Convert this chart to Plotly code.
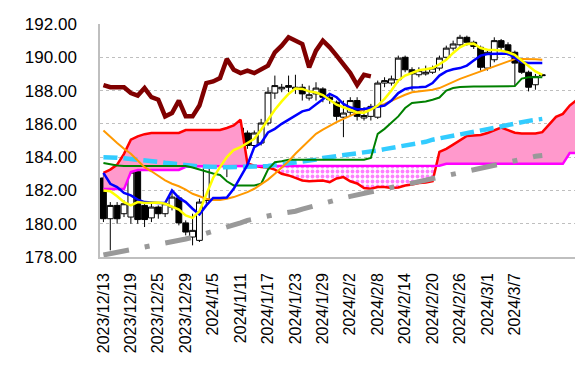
import plotly.graph_objects as go

# ---------------- data ----------------
tick_labels = ["2023/12/13", "2023/12/19", "2023/12/25", "2023/12/29", "2024/1/5",
               "2024/1/11", "2024/1/17", "2024/1/23", "2024/1/29", "2024/2/2",
               "2024/2/8", "2024/2/14", "2024/2/20", "2024/2/26", "2024/3/1", "2024/3/7"]

open_ = [182.75, 180.3, 181.1, 180.6, 180.4, 183.15, 181.1, 180.35, 181.0, 180.6,
         181.0, 181.55, 180.05, 179.2, 179.0, 181.4, 183.75, 184.0, 183.95, 183.4,
         185.75, 185.45, 184.7, 184.85, 186.05, 187.85, 188.1, 188.3, 188.1, 188.2,
         187.55, 187.8, 188.1, 187.6, 187.3, 186.4, 186.7, 187.4, 186.35, 186.45,
         186.4, 188.45, 188.45, 188.65, 190.0, 189.25, 188.95, 189.0, 189.1, 189.35,
         190.0, 190.55, 190.75, 191.2, 190.9, 190.6, 189.35, 189.85, 191.0, 190.75,
         190.3, 189.7, 189.1, 188.35, 188.95]
high = [183.0, 181.3, 181.3, 181.4, 184.25, 183.3, 181.3, 181.2, 181.1, 181.3,
        182.0, 181.7, 180.2, 180.6, 181.5, 184.3, 184.3, 184.1, 184.1, 185.9,
        185.9, 185.6, 185.6, 186.3, 188.2, 188.9, 188.4, 188.9, 188.95, 188.4,
        188.3, 188.5, 188.2, 187.8, 187.4, 187.4, 187.6, 187.6, 187.0, 187.2,
        188.6, 188.8, 188.9, 190.1, 190.1, 189.4, 189.4, 189.5, 189.5, 190.1,
        190.7, 191.0, 191.35, 191.3, 191.0, 190.7, 190.4, 191.2, 191.1, 190.9,
        190.4, 189.8, 189.2, 189.0, 189.0]
low = [180.1, 178.4, 180.0, 180.4, 180.0, 180.0, 179.8, 180.1, 180.3, 180.4,
       180.8, 179.9, 179.3, 178.7, 178.9, 181.2, 183.5, 183.6, 182.8, 183.3,
       185.1, 184.5, 184.5, 184.7, 185.9, 187.5, 187.9, 187.9, 187.8, 187.4,
       187.4, 187.4, 187.3, 187.2, 186.2, 185.2, 186.5, 186.2, 186.2, 186.2,
       186.3, 188.2, 188.3, 188.5, 189.1, 188.0, 188.8, 188.9, 189.0, 189.2,
       189.9, 190.4, 190.6, 190.7, 190.5, 189.2, 189.2, 189.7, 190.4, 190.1,
       188.3, 189.0, 187.95, 188.05, 188.85]
close = [180.3, 181.1, 180.3, 181.2, 183.1, 180.25, 180.25, 181.0, 180.6, 181.2,
         181.6, 180.05, 179.5, 179.6, 181.3, 183.95, 184.0, 183.8, 183.65, 185.75,
         185.3, 184.7, 185.45, 186.05, 187.9, 188.3, 188.2, 188.2, 188.2, 187.8,
         187.75, 188.15, 187.6, 187.45, 186.45, 186.65, 187.4, 186.45, 186.5, 187.05,
         188.45, 188.6, 188.7, 189.95, 189.25, 189.0, 189.2, 189.1, 189.35, 189.95,
         190.55, 190.8, 191.2, 190.9, 190.65, 189.4, 190.3, 191.0, 190.6, 190.2,
         189.65, 189.1, 188.2, 188.85, 188.9]

yellow_line = [182.0, 181.95, 181.65, 181.3, 181.1, 181.3, 181.25, 181.27, 181.28, 181.2,
               181.0, 180.85, 180.5, 180.35, 180.75, 181.75, 182.75, 183.4, 184.0, 184.43,
               184.6, 184.85, 185.1, 185.65, 186.25, 186.85, 187.35, 187.8, 188.12, 188.1,
               187.95, 187.88, 187.73, 187.45, 187.15, 187.0, 186.85, 186.68, 186.67, 186.85,
               187.1, 187.5, 188.0, 188.6, 188.9, 189.08, 189.22, 189.28, 189.35, 189.58,
               189.85, 190.26, 190.6, 190.8, 190.82, 190.56, 190.45, 190.44, 190.4, 190.3,
               190.14, 189.8, 189.45, 189.15, 188.94]
blue_line = [183.05, 182.4, 182.2, 181.85, 181.7, 181.45, 181.3, 181.25, 181.24, 181.24,
             182.0, 181.55, 181.3, 180.9, 180.55, 181.1, 181.55, 181.55, 181.58, 182.1,
             182.8, 183.53, 184.6, 184.85, 185.48, 185.7, 186.0, 186.25, 186.5, 186.75,
             186.85, 187.15, 187.5, 187.8, 187.6, 187.2, 186.98, 186.88, 186.9, 186.97,
             187.05, 187.1, 187.4, 187.85, 188.1, 188.18, 188.2, 188.23, 188.45, 188.9,
             189.15, 189.28, 189.35, 189.5, 189.8, 190.1, 190.2, 190.22, 190.22, 190.22,
             189.96, 189.7, 189.66, 189.66, 189.66]
orange_line = [185.6, 185.2, 184.85, 184.5, 184.2, 183.8, 183.4, 183.15, 182.85, 182.6,
               182.4, 182.25, 182.05, 181.8, 181.65, 181.5, 181.42, 181.42, 181.5, 181.6,
               181.75, 181.9, 182.1, 182.35, 182.65, 183.0, 183.35, 183.75, 184.2, 184.6,
               185.0, 185.4, 185.65, 185.9, 186.1, 186.3, 186.5, 186.65, 186.85, 186.95,
               187.05, 187.2, 187.4, 187.55, 187.75, 187.9, 187.95, 188.0, 188.05, 188.15,
               188.35, 188.55, 188.7, 188.85, 189.0, 189.15, 189.3, 189.45, 189.6, 189.72,
               189.9, 189.9, 189.9, 189.88, 189.85]
green_line = [183.65, 183.57, 183.5, 183.47, 183.47, 183.47, 183.47, 183.47, 183.47, 183.47,
              183.47, 183.47, 183.47, 183.38, 183.25, 183.12, 183.02, 182.93, 182.55, 182.3,
              182.3, 182.3, 182.3, 182.4, 183.25, 183.7, 183.75, 183.85, 183.85, 183.85,
              183.85, 183.85, 183.85, 183.85, 183.85, 183.85, 183.85, 183.85, 183.85, 183.95,
              185.4, 185.7, 186.1, 186.45, 186.95, 187.25, 187.3, 187.35, 187.45, 187.58,
              188.0, 188.15, 188.22, 188.25, 188.25, 188.25, 188.25, 188.25, 188.25, 188.25,
              188.27, 188.72, 188.8, 188.8, 188.8]
cyan_line = [184.0, 184.0, 183.97, 183.93, 183.9, 183.86, 183.83, 183.78, 183.72, 183.66,
             183.6, 183.56, 183.52, 183.48, 183.44, 183.41, 183.4, 183.4, 183.4, 183.4,
             183.41, 183.41, 183.42, 183.44, 183.47, 183.52, 183.58, 183.62, 183.66, 183.7,
             183.76, 183.85, 183.95, 184.0, 184.04, 184.08, 184.13, 184.2, 184.27, 184.33,
             184.4, 184.48, 184.55, 184.63, 184.7, 184.77, 184.85, 184.92, 185.05, 185.12,
             185.2, 185.27, 185.35, 185.45, 185.53, 185.6, 185.68, 185.76, 185.85, 185.95,
             186.05, 186.12, 186.18, 186.24, 186.3]
gray_line = [178.12, 178.2, 178.27, 178.33, 178.4, 178.47, 178.55, 178.62, 178.72, 178.85,
             178.93, 179.0, 179.08, 179.18, 179.3, 179.42, 179.52, 179.65, 179.8, 179.93,
             180.05, 180.2, 180.3, 180.4, 180.48, 180.55, 180.62, 180.68, 180.75, 180.88,
             181.0, 181.12, 181.24, 181.38, 181.46, 181.55, 181.64, 181.74, 181.85, 181.95,
             182.02, 182.1, 182.18, 182.26, 182.35, 182.44, 182.52, 182.6, 182.7, 182.8,
             182.9, 182.98, 183.05, 183.15, 183.25, 183.35, 183.45, 183.55, 183.62, 183.72,
             183.8, 183.88, 183.98, 184.05, 184.1]
chikou_line = [188.33, 188.2, 188.2, 188.2, 187.85, 187.7, 188.15, 187.6, 187.45, 186.45,
               186.65, 187.4, 186.45, 186.45, 187.1, 188.45, 188.55, 188.75, 189.9, 189.25,
               189.05, 189.2, 189.05, 189.3, 189.5, 190.3, 190.7, 191.2, 191.0, 190.8,
               189.4, 190.4, 191.0, 190.6, 190.1, 189.6, 189.05, 188.33, 188.95, 188.85]
span_a = [183.05, 183.25, 183.55, 184.2, 185.05, 185.25, 185.38, 185.45, 185.45, 185.45,
          185.45, 185.45, 185.63, 185.63, 185.63, 185.63, 185.63, 185.63, 185.75, 185.9,
          186.25, 183.62, 183.48, 183.4, 183.38, 183.25, 183.0, 182.9, 182.75, 182.6,
          182.55, 182.58, 182.6, 182.5, 182.72, 182.8, 182.55, 182.42, 182.15, 182.1,
          182.2, 182.2, 182.15, 182.18, 182.3, 182.35, 182.45, 182.47, 182.55, 184.32,
          184.5, 184.75, 185.03, 185.27, 185.3, 185.33, 185.45, 185.6, 185.78, 185.62,
          185.47, 185.42, 185.4, 185.42, 185.5, 185.95, 186.42, 186.6, 187.1, 187.43]
span_b = [182.08, 182.08, 182.08, 182.08, 183.1, 183.23, 183.23, 183.23, 183.23, 183.23,
          183.23, 183.23, 183.42, 183.46, 183.46, 183.46, 183.46, 183.46, 183.46, 183.46,
          183.46, 183.46, 183.46, 183.46, 183.46, 183.46, 183.46, 183.46, 183.46, 183.46,
          183.46, 183.46, 183.46, 183.46, 183.46, 183.46, 183.46, 183.46, 183.46, 183.46,
          183.46, 183.46, 183.46, 183.46, 183.46, 183.46, 183.46, 183.46, 183.46, 183.48,
          183.6, 183.6, 183.6, 183.6, 183.6, 183.6, 183.6, 183.6, 183.6, 183.6,
          183.6, 183.6, 183.6, 183.6, 183.6, 183.6, 183.6, 183.6, 184.25, 184.25]

# ---------------- build figure ----------------
idx = list(range(len(close)))
idx_cloud = list(range(len(span_a)))
idx_chikou = list(range(len(chikou_line)))


def with_crossings(xs, a, b):
    """Polyline points of a and b with crossing points inserted (for fills)."""
    ox, oa, ob = [], [], []
    for k in range(len(xs)):
        if k > 0:
            d0 = a[k - 1] - b[k - 1]
            d1 = a[k] - b[k]
            if d0 * d1 < 0:
                t = d0 / (d0 - d1)
                xc = xs[k - 1] + t * (xs[k] - xs[k - 1])
                yc = a[k - 1] + t * (a[k] - a[k - 1])
                ox.append(xc); oa.append(yc); ob.append(yc)
        ox.append(xs[k]); oa.append(a[k]); ob.append(b[k])
    return ox, oa, ob


cx, ca, cb = with_crossings(idx_cloud, span_a, span_b)
upper = [max(p, q) for p, q in zip(ca, cb)]
lower = [min(p, q) for p, q in zip(ca, cb)]

fig = go.Figure()
nofill_line = dict(width=0, color='rgba(0,0,0,0)')
# pink cloud (span A above span B)
fig.add_trace(go.Scatter(x=cx, y=cb, mode='lines', line=nofill_line, hoverinfo='skip'))
fig.add_trace(go.Scatter(x=cx, y=upper, mode='lines', line=nofill_line, fill='tonexty',
                         fillcolor='#FF99CC', hoverinfo='skip'))
# dotted cloud (span A below span B)
fig.add_trace(go.Scatter(x=cx, y=cb, mode='lines', line=nofill_line, hoverinfo='skip'))
fig.add_trace(go.Scatter(x=cx, y=lower, mode='lines', line=nofill_line, fill='tonexty',
                         fillcolor='white',
                         fillpattern=dict(shape='.', fgcolor='#FF00FF', bgcolor='white',
                                          size=5, solidity=0.45),
                         hoverinfo='skip'))
# span lines
fig.add_trace(go.Scatter(x=idx_cloud, y=span_a, mode='lines', line=dict(color='#FF0000', width=2.5)))
fig.add_trace(go.Scatter(x=idx_cloud, y=span_b, mode='lines', line=dict(color='#FF00FF', width=2.5)))

# candles
fig.add_trace(go.Candlestick(
    x=idx, open=open_, high=high, low=low, close=close,
    increasing=dict(line=dict(color='black', width=1), fillcolor='white'),
    decreasing=dict(line=dict(color='black', width=1), fillcolor='black'),
    whiskerwidth=0))

fig.add_trace(go.Scatter(x=idx, y=gray_line, mode='lines',
                         line=dict(color='#999999', width=5, dash='26px,16px,5px,16px')))
fig.add_trace(go.Scatter(x=idx, y=cyan_line, mode='lines',
                         line=dict(color='#33CCFF', width=4.5, dash='14px,6px')))
fig.add_trace(go.Scatter(x=idx, y=green_line, mode='lines', line=dict(color='#008000', width=2)))
fig.add_trace(go.Scatter(x=idx, y=orange_line, mode='lines', line=dict(color='#FF9900', width=2)))
fig.add_trace(go.Scatter(x=idx, y=blue_line, mode='lines', line=dict(color='#0000FF', width=2.5)))
fig.add_trace(go.Scatter(x=idx, y=yellow_line, mode='lines', line=dict(color='#FFFF00', width=2.5)))
fig.add_trace(go.Scatter(x=idx_chikou, y=chikou_line, mode='lines', line=dict(color='#800000', width=4.5)))

# the html page body has an 8px default margin, so margins compensate for it
fig.update_layout(
    width=583, height=379,
    margin=dict(l=92, r=11, t=16, b=130, autoexpand=False),
    paper_bgcolor='white', plot_bgcolor='white',
    showlegend=False,
    boxgap=0.15, boxgroupgap=0.0,
    font=dict(family='Liberation Sans, Arial, sans-serif', color='black'),
    xaxis=dict(range=[-0.5, 69.5], tickmode='array',
               tickvals=list(range(0, 4 * len(tick_labels), 4)), ticktext=tick_labels,
               tickangle=-90, showgrid=False, zeroline=False, automargin=False,
               showline=True, linecolor='#BFBFBF', linewidth=1.5,
               ticks='', ticklabelstandoff=8,
               tickfont=dict(size=16, color='black'),
               rangeslider=dict(visible=False)),
    yaxis=dict(range=[178, 192], tick0=178, dtick=2, tickformat='.2f',
               showgrid=True, gridcolor='#BFBFBF', griddash='dot', gridwidth=1,
               zeroline=False, showline=True, linecolor='#BFBFBF', linewidth=1.5,
               ticks='', ticklabelstandoff=18, automargin=False,
               tickfont=dict(size=17, color='black')),
)

fig.write_html("out.html")
